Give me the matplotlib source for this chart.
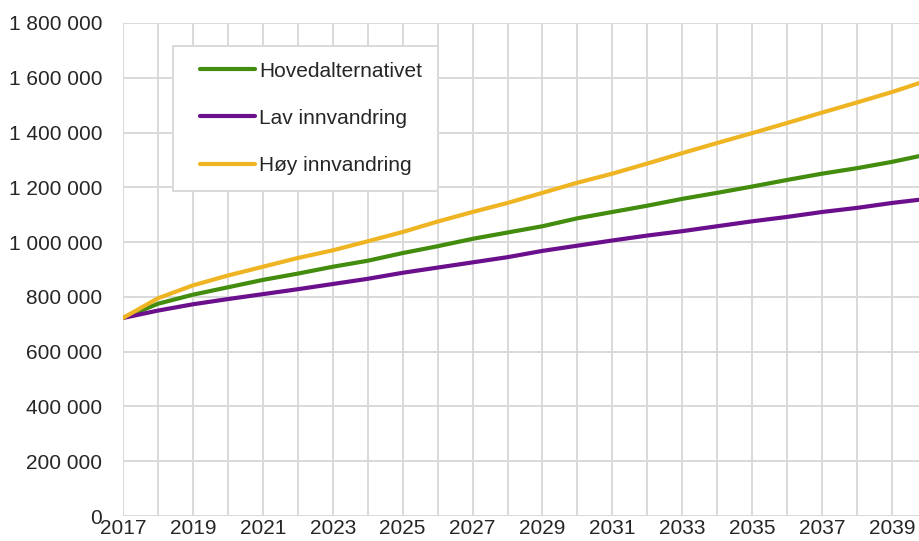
import numpy as np
import matplotlib.pyplot as plt
from matplotlib.legend_handler import HandlerLine2D
from matplotlib.ticker import MultipleLocator, FuncFormatter

plt.rcParams['font.family'] = ['Liberation Sans', 'DejaVu Sans']

years = list(range(2017, 2041))
hoved = [723000, 775000, 808000, 835000, 862000, 885000, 910000, 932000, 960000, 985000,
         1012000, 1035000, 1058000, 1087000, 1110000, 1133000, 1158000, 1180000, 1203000,
         1227000, 1250000, 1270000, 1293000, 1320000]
lav = [723000, 750000, 773000, 792000, 810000, 828000, 847000, 866000, 888000, 907000,
       926000, 945000, 968000, 987000, 1006000, 1024000, 1040000, 1058000, 1076000,
       1092000, 1110000, 1125000, 1143000, 1158000]
hoy = [723000, 795000, 842000, 878000, 910000, 942000, 970000, 1003000, 1037000, 1075000,
       1110000, 1143000, 1180000, 1217000, 1250000, 1287000, 1325000, 1362000, 1398000,
       1435000, 1473000, 1510000, 1548000, 1590000]

series = [
    ("Hovedalternativet", hoved, "#428C0E"),
    ("Lav innvandring", lav, "#6B0F8C"),
    ("Høy innvandring", hoy, "#EFB422"),
]


# legend line drawn only on the right part of the handle box (extra left padding)
class ShortLine(HandlerLine2D):
    def get_xdata(self, legend, xdescent, ydescent, width, height, fontsize):
        x1 = -xdescent + width
        x0 = x1 - width * 0.83
        return np.array([x0, x1]), np.array([(x0 + x1) / 2])


fig = plt.figure(figsize=(9.19, 5.41), dpi=100)
ax = fig.add_axes([123 / 919, 25 / 541, 1 - 123 / 919, (516 - 23) / 541])

for name, vals, col in series:
    ax.plot(years, vals, color=col, linewidth=3.0, label=name,
            solid_capstyle='round', solid_joinstyle='round', zorder=3)

ax.set_xlim(2017, 2039.77)
ax.set_ylim(0, 1800000)
ax.xaxis.set_major_locator(MultipleLocator(1))
ax.xaxis.set_major_formatter(FuncFormatter(lambda v, p: f"{int(round(v))}" if int(round(v)) % 2 == 1 else ""))
ax.yaxis.set_major_locator(MultipleLocator(200000))
ax.yaxis.set_major_formatter(FuncFormatter(lambda v, p: f"{int(v):,}".replace(",", " ")))

ax.grid(True, color="#D9D9D9", linewidth=1.4, zorder=0)
ax.set_axisbelow(True)
for s in ax.spines.values():
    s.set_visible(False)
ax.tick_params(length=0, labelsize=15, colors="#262626")
ax.tick_params(axis='y', pad=15)
ax.tick_params(axis='x', pad=2)

leg = ax.legend(loc='upper left', bbox_to_anchor=(50 / 796, 1 - 23 / 493), fontsize=15,
                frameon=True, fancybox=False, edgecolor="#D9D9D9", framealpha=1,
                handlelength=3.18, handletextpad=0.2, labelspacing=1.35, borderpad=0.75,
                borderaxespad=0, handler_map={plt.Line2D: ShortLine()})
leg.get_frame().set_linewidth(1.4)
for t in leg.get_texts():
    t.set_color("#262626")

plt.savefig("out.png", dpi=100)
